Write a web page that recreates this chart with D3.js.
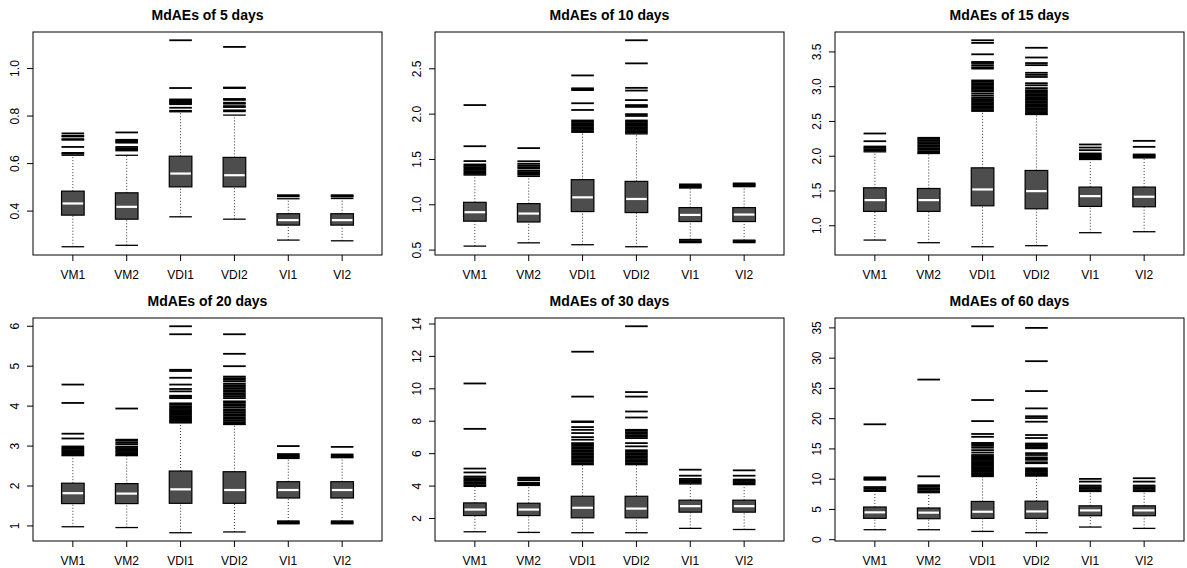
<!DOCTYPE html>
<html>
<head>
<meta charset="utf-8">
<script src="https://cdn.jsdelivr.net/npm/d3@7/dist/d3.min.js"></script>
<style>
  html, body { margin: 0; padding: 0; background: #fff; }
  svg { display: block; }
  text { font-family: "Liberation Sans", Arial, Helvetica, sans-serif; fill: #000; }
</style>
</head>
<body>
<svg id="chart" width="1187" height="568"></svg>
<script>
// ---------------- DATA ----------------
const groups = ["VM1", "VM2", "VDI1", "VDI2", "VI1", "VI2"];
const titles = ["MdAEs of 5 days", "MdAEs of 10 days", "MdAEs of 15 days",
                "MdAEs of 20 days", "MdAEs of 30 days", "MdAEs of 60 days"];

// y tick values and labels per panel
const ticks5 = [0.4, 0.6, 0.8, 1.0];
const tickLabels5 = ["0.4", "0.6", "0.8", "1.0"];
const ticks10 = [0.5, 1.0, 1.5, 2.0, 2.5];
const tickLabels10 = ["0.5", "1.0", "1.5", "2.0", "2.5"];
const ticks15 = [1.0, 1.5, 2.0, 2.5, 3.0, 3.5];
const tickLabels15 = ["1.0", "1.5", "2.0", "2.5", "3.0", "3.5"];
const ticks20 = [1, 2, 3, 4, 5, 6];
const tickLabels20 = ["1", "2", "3", "4", "5", "6"];
const ticks30 = [2, 4, 6, 8, 10, 12, 14];
const tickLabels30 = ["2", "4", "6", "8", "10", "12", "14"];
const ticks60 = [0, 5, 10, 15, 20, 25, 30, 35];
const tickLabels60 = ["0", "5", "10", "15", "20", "25", "30", "35"];

// box statistics per group: [lower whisker, Q1, median, Q3, upper whisker]
const stats5 = [
  [0.250, 0.383, 0.432, 0.484, 0.635],
  [0.256, 0.366, 0.418, 0.477, 0.635],
  [0.376, 0.502, 0.558, 0.631, 0.818],
  [0.366, 0.502, 0.551, 0.626, 0.804],
  [0.278, 0.341, 0.362, 0.389, 0.452],
  [0.275, 0.341, 0.362, 0.389, 0.453]
];
const out5 = [
  [0.641, 0.645, 0.670, 0.700, 0.703, 0.714, 0.717, 0.727],
  [0.655, 0.660, 0.664, 0.670, 0.688, 0.692, 0.696, 0.700, 0.731],
  [0.822, 0.835, 0.850, 0.854, 0.858, 0.862, 0.866, 0.870, 0.918, 1.119],
  [0.820, 0.824, 0.838, 0.842, 0.852, 0.856, 0.868, 0.872, 0.918, 0.920, 1.091],
  [0.462, 0.467],
  [0.461, 0.464, 0.467]
];

const stats10 = [
  [0.544, 0.819, 0.918, 1.027, 1.328],
  [0.580, 0.810, 0.903, 1.013, 1.313],
  [0.559, 0.925, 1.082, 1.277, 1.800],
  [0.537, 0.914, 1.064, 1.258, 1.782],
  [0.617, 0.815, 0.888, 0.969, 1.185],
  [0.610, 0.815, 0.892, 0.969, 1.200]
];
const out10 = [
  [1.34, 1.355, 1.37, 1.385, 1.40, 1.415, 1.43, 1.445, 1.482, 1.646, 2.10],
  [1.33, 1.345, 1.36, 1.375, 1.40, 1.415, 1.432, 1.452, 1.48, 1.625],
  [1.81, 1.825, 1.84, 1.855, 1.87, 1.885, 1.90, 1.915, 1.93, 2.046, 2.12, 2.265, 2.275, 2.285, 2.427],
  [1.795, 1.81, 1.825, 1.84, 1.855, 1.87, 1.885, 1.90, 1.915, 1.93, 1.98, 2.00, 2.08, 2.09, 2.10, 2.155, 2.26, 2.29, 2.56, 2.815],
  [0.585, 0.593, 0.600, 1.195, 1.205, 1.215, 1.225],
  [0.585, 0.593, 0.600, 1.208, 1.218, 1.228, 1.236]
];

const stats15 = [
  [0.794, 1.206, 1.369, 1.546, 2.063],
  [0.756, 1.206, 1.369, 1.536, 2.039],
  [0.698, 1.287, 1.522, 1.833, 2.647],
  [0.713, 1.244, 1.498, 1.795, 2.600],
  [0.900, 1.278, 1.426, 1.556, 1.953],
  [0.914, 1.273, 1.417, 1.556, 1.977]
];
const out15 = [
  [2.08, 2.10, 2.12, 2.14, 2.216, 2.327],
  [2.05, 2.072, 2.094, 2.116, 2.138, 2.16, 2.182, 2.204, 2.226, 2.248, 2.265],
  [2.66, 2.68, 2.70, 2.72, 2.74, 2.76, 2.78, 2.80, 2.82, 2.84, 2.87, 2.90, 2.93, 2.95, 2.97, 2.99, 3.01, 3.03, 3.05, 3.07, 3.09, 3.26, 3.28, 3.31, 3.34, 3.356, 3.466, 3.63, 3.668],
  [2.61, 2.63, 2.65, 2.67, 2.69, 2.71, 2.73, 2.75, 2.77, 2.79, 2.81, 2.83, 2.85, 2.87, 2.89, 2.91, 2.93, 2.95, 2.98, 3.02, 3.05, 3.14, 3.17, 3.20, 3.31, 3.34, 3.42, 3.56],
  [1.965, 1.98, 1.995, 2.01, 2.025, 2.04, 2.087, 2.125, 2.169],
  [1.985, 2.00, 2.015, 2.025, 2.135, 2.221]
];

const stats20 = [
  [0.98, 1.56, 1.82, 2.07, 2.76],
  [0.96, 1.56, 1.81, 2.06, 2.76],
  [0.83, 1.567, 1.917, 2.375, 3.58],
  [0.85, 1.567, 1.90, 2.358, 3.54],
  [1.125, 1.70, 1.90, 2.108, 2.69],
  [1.125, 1.70, 1.90, 2.108, 2.71]
];
const out20 = [
  [2.78, 2.81, 2.84, 2.87, 2.90, 2.93, 2.96, 2.99, 3.19, 3.31, 4.08, 4.54],
  [2.78, 2.81, 2.85, 2.88, 2.92, 2.95, 2.98, 3.04, 3.08, 3.13, 3.16, 3.94],
  [3.60, 3.63, 3.66, 3.69, 3.72, 3.75, 3.78, 3.81, 3.84, 3.87, 3.90, 3.93, 3.97, 4.00, 4.04, 4.07, 4.20, 4.23, 4.26, 4.37, 4.43, 4.54, 4.71, 4.88, 4.91, 5.80, 6.00],
  [3.56, 3.60, 3.64, 3.68, 3.72, 3.76, 3.80, 3.84, 3.88, 3.92, 3.97, 4.01, 4.05, 4.09, 4.12, 4.20, 4.24, 4.28, 4.32, 4.36, 4.40, 4.44, 4.48, 4.52, 4.56, 4.62, 4.66, 4.70, 4.74, 5.00, 5.31, 5.80],
  [1.06, 1.08, 1.10, 2.71, 2.74, 2.77, 2.80, 3.00],
  [1.06, 1.08, 1.10, 2.73, 2.76, 2.79, 2.98]
];

const stats30 = [
  [1.18, 2.18, 2.55, 2.96, 3.98],
  [1.14, 2.18, 2.55, 2.94, 4.04],
  [1.12, 2.04, 2.66, 3.37, 5.32],
  [1.12, 2.04, 2.61, 3.37, 5.32],
  [1.39, 2.39, 2.76, 3.13, 4.13],
  [1.32, 2.39, 2.76, 3.13, 4.09]
];
const out30 = [
  [4.05, 4.14, 4.23, 4.32, 4.41, 4.49, 4.59, 4.84, 5.08, 7.53, 10.33],
  [4.08, 4.16, 4.20, 4.36, 4.44, 4.52],
  [5.40, 5.49, 5.58, 5.67, 5.76, 5.85, 5.94, 6.03, 6.12, 6.21, 6.30, 6.39, 6.48, 6.57, 6.65, 6.86, 7.02, 7.27, 7.47, 7.64, 7.95, 7.99, 9.52, 12.29],
  [5.40, 5.49, 5.58, 5.67, 5.76, 5.85, 5.94, 6.03, 6.12, 6.21, 6.45, 6.65, 6.96, 7.05, 7.14, 7.23, 7.32, 7.41, 7.47, 8.23, 8.60, 9.52, 9.80, 13.86],
  [4.20, 4.28, 4.36, 4.44, 4.64, 5.01],
  [4.16, 4.24, 4.32, 4.40, 4.64, 4.97]
];

const stats60 = [
  [1.65, 3.53, 4.52, 5.40, 7.99],
  [1.65, 3.47, 4.47, 5.24, 7.77],
  [1.37, 3.52, 4.62, 6.32, 10.44],
  [1.15, 3.52, 4.67, 6.37, 10.55],
  [2.09, 3.96, 4.84, 5.60, 7.97],
  [1.87, 3.96, 4.84, 5.60, 7.97]
];
const out60 = [
  [8.2, 8.45, 8.7, 9.9, 10.1, 10.3, 19.07],
  [8.0, 8.25, 8.5, 8.75, 9.0, 10.47, 26.46],
  [10.6, 10.8, 11.0, 11.2, 11.4, 11.6, 11.8, 12.0, 12.2, 12.4, 12.6, 12.8, 13.0, 13.2, 13.4, 13.6, 13.8, 14.0, 14.4, 14.8, 15.2, 15.5, 15.8, 16.0, 17.0, 17.47, 19.6, 23.08, 35.27],
  [10.6, 10.8, 11.0, 11.2, 11.4, 11.6, 11.8, 12.64, 12.8, 13.2, 13.4, 13.6, 14.0, 14.3, 15.1, 15.3, 15.5, 15.7, 15.9, 16.8, 17.3, 19.5, 20.1, 20.4, 21.7, 24.56, 29.5, 35.0],
  [8.2, 8.45, 8.7, 8.95, 9.6, 10.05],
  [8.2, 8.45, 8.7, 8.95, 9.6, 10.16]
];

// ---------------- LAYOUT ----------------
const panels = [
  { title: titles[0], stats: stats5,  outs: out5,  ticks: ticks5,  labels: tickLabels5 },
  { title: titles[1], stats: stats10, outs: out10, ticks: ticks10, labels: tickLabels10 },
  { title: titles[2], stats: stats15, outs: out15, ticks: ticks15, labels: tickLabels15 },
  { title: titles[3], stats: stats20, outs: out20, ticks: ticks20, labels: tickLabels20 },
  { title: titles[4], stats: stats30, outs: out30, ticks: ticks30, labels: tickLabels30 },
  { title: titles[5], stats: stats60, outs: out60, ticks: ticks60, labels: tickLabels60 }
];
const colLeft = [33, 435, 835];
const plotW = 349;
const rowTop = [32, 318];
const plotH = 223;

const boxFill = "#4d4d4d";
const halfBox = 0.21;

const svg = d3.select("#chart");

panels.forEach((p, i) => {
  const left = colLeft[i % 3], top = rowTop[Math.floor(i / 3)];
  const right = left + plotW, bottom = top + plotH;

  const allVals = [];
  p.stats.forEach(s => allVals.push(...s));
  p.outs.forEach(o => allVals.push(...o));
  const [mn, mx] = d3.extent(allVals);
  const pad = (mx - mn) * 0.04;

  const x = d3.scaleLinear().domain([0.26, 6.74]).range([left, right]);
  const y = d3.scaleLinear().domain([mn - pad, mx + pad]).range([bottom, top]);

  const g = svg.append("g");

  groups.forEach((name, j) => {
    const s = p.stats[j];
    const cx = x(j + 1);
    const x0 = x(j + 1 - halfBox), x1 = x(j + 1 + halfBox);
    g.append("line").attr("x1", cx).attr("x2", cx).attr("y1", y(s[0])).attr("y2", y(s[1]))
      .attr("stroke", "#333").attr("stroke-width", 1).attr("stroke-dasharray", "1 2");
    g.append("line").attr("x1", cx).attr("x2", cx).attr("y1", y(s[3])).attr("y2", y(s[4]))
      .attr("stroke", "#333").attr("stroke-width", 1).attr("stroke-dasharray", "1 2");
    [s[0], s[4]].forEach(v => {
      g.append("line").attr("x1", x0).attr("x2", x1).attr("y1", y(v)).attr("y2", y(v))
        .attr("stroke", "#000").attr("stroke-width", 1.3);
    });
    g.append("rect").attr("x", x0).attr("y", y(s[3]))
      .attr("width", x1 - x0).attr("height", y(s[1]) - y(s[3]))
      .attr("fill", boxFill).attr("stroke", "#000").attr("stroke-width", 1.2);
    g.append("line").attr("x1", x0 + 1).attr("x2", x1 - 1).attr("y1", y(s[2])).attr("y2", y(s[2]))
      .attr("stroke", "#fff").attr("stroke-width", 2.2);
    g.selectAll(null).data(p.outs[j]).enter().append("line")
      .attr("x1", x0).attr("x2", x1)
      .attr("y1", d => y(d)).attr("y2", d => y(d))
      .attr("stroke", "#000").attr("stroke-width", 1.8);
  });

  g.append("rect").attr("x", left).attr("y", top).attr("width", plotW).attr("height", plotH)
    .attr("fill", "none").attr("stroke", "#000").attr("stroke-width", 1);

  groups.forEach((name, j) => {
    const cx = x(j + 1);
    g.append("line").attr("x1", cx).attr("x2", cx).attr("y1", bottom).attr("y2", bottom + 6)
      .attr("stroke", "#000").attr("stroke-width", 1);
    g.append("text").attr("x", cx).attr("y", bottom + 24).attr("text-anchor", "middle")
      .attr("font-size", "12px").text(name);
  });

  p.ticks.forEach((t, k) => {
    const yy = y(t);
    g.append("line").attr("x1", left - 6).attr("x2", left).attr("y1", yy).attr("y2", yy)
      .attr("stroke", "#000").attr("stroke-width", 1);
    g.append("text").attr("transform", `translate(${left - 14},${yy}) rotate(-90)`)
      .attr("text-anchor", "middle").attr("font-size", "12px").text(p.labels[k]);
  });

  g.append("text").attr("x", (left + right) / 2).attr("y", top - 12)
    .attr("text-anchor", "middle").attr("font-size", "14px").attr("font-weight", "bold")
    .text(p.title);
});
</script>
</body>
</html>
